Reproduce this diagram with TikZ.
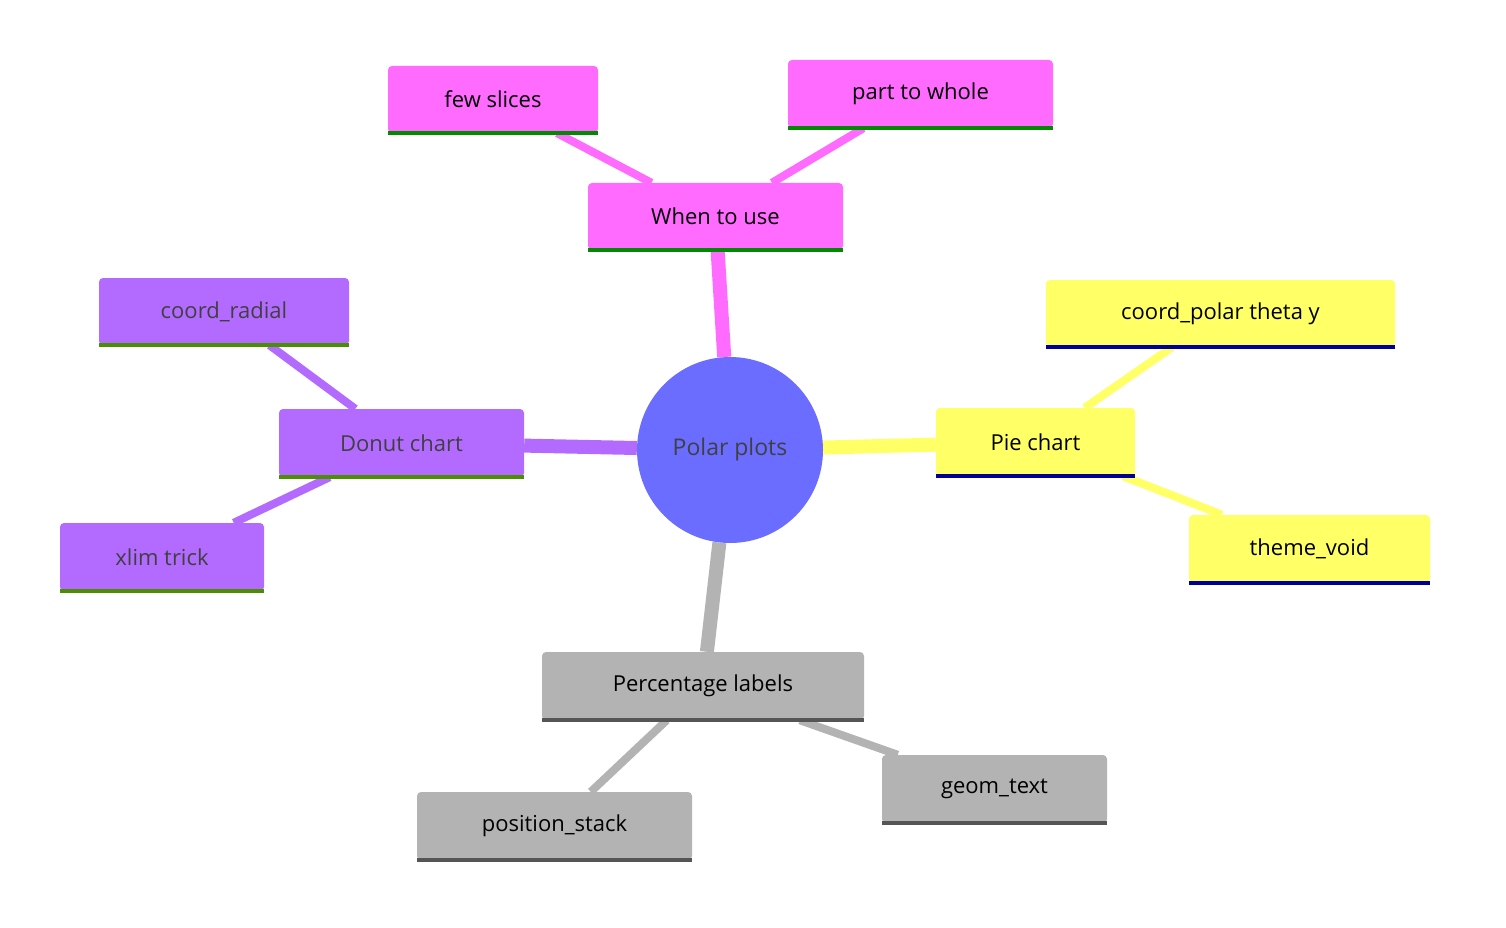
\documentclass[tikz,border=0pt]{standalone}
\usepackage{fontspec}
\setmainfont{Open Sans}
\usetikzlibrary{backgrounds}
\definecolor{pk}{HTML}{FF6BFF}
\definecolor{pu}{HTML}{B36BFF}
\definecolor{ye}{HTML}{FFFF66}
\definecolor{gy}{HTML}{B3B3B3}
\definecolor{ce}{HTML}{6A6DFF}
\definecolor{gn}{HTML}{008A00}
\definecolor{gn2}{HTML}{4A8F00}
\definecolor{bl}{HTML}{000099}
\definecolor{dg}{HTML}{555555}
\tikzset{
 box/.style={rounded corners=4pt,inner sep=0pt,font=\fontsize{22}{26}\selectfont},
 e1/.style={line width=14pt},
 e2/.style={line width=8pt},
 ul/.style={line width=4pt}
}
\newcommand\bx[7]{\node[box,fill=#7,minimum width=#4pt-#2pt,minimum height=#5pt-#3pt] (#1) at ({(#2+#4)/2*1pt},{-(#3+#5)/2*1pt}) {#6};}
\begin{document}
\begin{tikzpicture}[x=1pt,y=1pt]
\useasboundingbox (0,0) rectangle (1506,-928);
\node[circle,fill=ce,minimum size=186pt,inner sep=0pt,font=\fontsize{23}{26}\selectfont,text=black!75] (c) at (730,-450) {Polar plots};
\bx{fs}{388}{66}{598}{133}{few slices}{pk}
\bx{pw}{788}{60}{1053}{128}{part to whole}{pk}
\bx{wu}{588}{183}{843}{250}{When to use}{pk}
\bx{cr}{99}{278}{349}{345}{\textcolor{black!75}{coord\_radial}}{pu}
\bx{dc}{279}{409}{524}{477}{\textcolor{black!75}{Donut chart}}{pu}
\bx{xl}{60}{523}{264}{591}{\textcolor{black!75}{xlim trick}}{pu}
\bx{cp}{1046}{280}{1395}{347}{coord\_polar theta y}{ye}
\bx{pc}{936}{408}{1135}{476}{Pie chart}{ye}
\bx{tv}{1189}{515}{1430}{583}{theme\_void}{ye}
\bx{pl}{542}{652}{864}{720}{Percentage labels}{gy}
\bx{gt}{882}{755}{1107}{823}{geom\_text}{gy}
\bx{ps}{417}{792}{692}{860}{position\_stack}{gy}
\foreach \n/\c in {fs/gn,pw/gn,wu/gn,cr/gn2,dc/gn2,xl/gn2,cp/bl,pc/bl,tv/bl,pl/dg,gt/dg,ps/dg}
  \draw[ul,\c] (\n.south west)--(\n.south east);
\begin{scope}[on background layer]
\draw[e1,pk] (c) -- (wu);
\draw[e1,pu] (c) -- (dc);
\draw[e1,ye] (c) -- (pc);
\draw[e1,gy] (c) -- (pl);
\draw[e2,pk] (wu) -- (fs);
\draw[e2,pk] (wu) -- (pw);
\draw[e2,pu] (dc) -- (cr);
\draw[e2,pu] (dc) -- (xl);
\draw[e2,ye] (pc) -- (cp);
\draw[e2,ye] (pc) -- (tv);
\draw[e2,gy] (pl) -- (gt);
\draw[e2,gy] (pl) -- (ps);
\end{scope}
\end{tikzpicture}
\end{document}
